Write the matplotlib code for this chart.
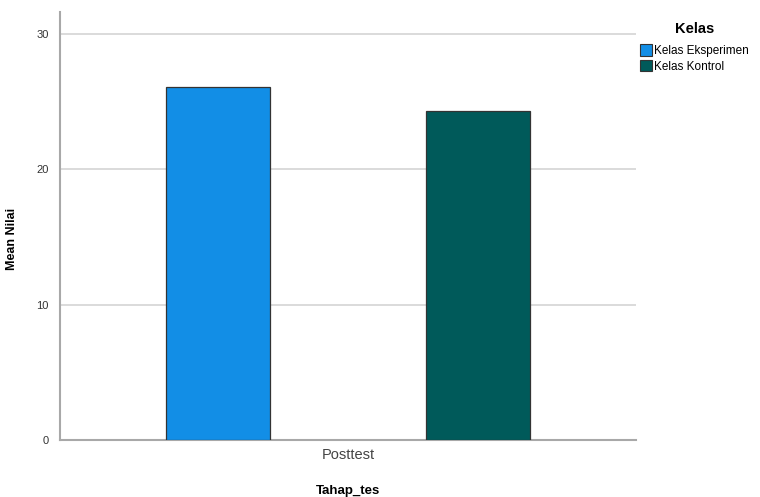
import matplotlib
matplotlib.use("Agg")
import matplotlib.pyplot as plt
from matplotlib.patches import Patch

plt.rcParams['font.family'] = ['Liberation Sans', 'DejaVu Sans']

categories = ["Posttest"]
series_names = ["Kelas Eksperimen", "Kelas Kontrol"]
values_eksperimen = [26.1]
values_kontrol = [24.3]
yticks = [0, 10, 20, 30]

colors = ["#128EE6", "#005A5A"]

fig = plt.figure(figsize=(7.6, 4.97), dpi=100)
ax = fig.add_axes([0.0789, 0.1147, 0.758, 0.861])

width = 0.18
offset = 0.2257
ax.bar([0 - offset], values_eksperimen, width=width, color=colors[0], edgecolor="#333333", linewidth=0.9, zorder=3)
ax.bar([0 + offset], values_kontrol, width=width, color=colors[1], edgecolor="#333333", linewidth=0.9, zorder=3)

ax.set_xlim(-0.5, 0.5)
ax.set_ylim(0, 31.6)
ax.set_yticks(yticks)
ax.set_yticklabels([str(t) for t in yticks], fontsize=8, color="#333333")
ax.set_xticks([0])
ax.set_xticklabels(categories, fontsize=10.5, color="#444444")
ax.tick_params(axis='both', length=0, pad=6)
ax.tick_params(axis='y', pad=8)

ax.yaxis.grid(True, color="#d4d4d4", linewidth=1.2, zorder=0)
ax.set_axisbelow(True)
for s in ["top", "right"]:
    ax.spines[s].set_visible(False)
ax.spines["left"].set_color("#a8a8a8")
ax.spines["left"].set_linewidth(1.5)
ax.spines["bottom"].set_color("#a8a8a8")
ax.spines["bottom"].set_linewidth(1.5)

ax.set_ylabel("Mean Nilai", fontsize=9, fontweight="bold")
ax.yaxis.set_label_coords(-0.073, 0.47)
ax.set_xlabel("Tahap_tes", fontsize=9.5, fontweight="bold", labelpad=16)

handles = [Patch(facecolor=c, edgecolor="#333333", linewidth=0.8) for c in colors]
leg = fig.legend(handles, series_names, loc="upper left", bbox_to_anchor=(0.836, 0.965),
                 frameon=False, fontsize=8.5, title="Kelas",
                 title_fontproperties={"weight": "bold", "size": 10.5},
                 handlelength=1.0, handleheight=1.1, handletextpad=0.2,
                 labelspacing=0.25, borderaxespad=0)
leg._legend_box.align = "center"
leg._legend_box.sep = 6

fig.savefig("out.png", dpi=100)
